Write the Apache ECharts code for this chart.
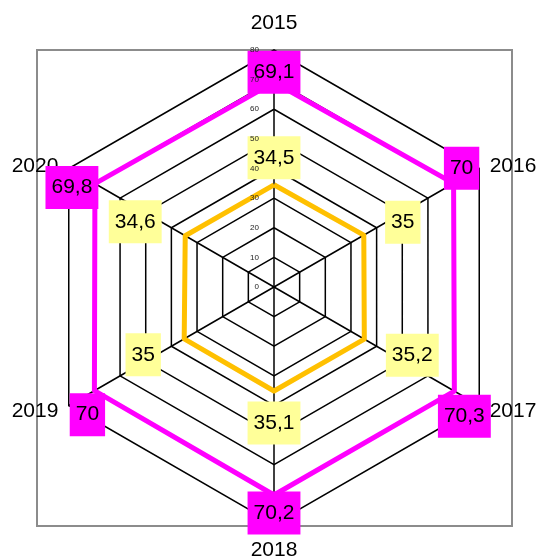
<!doctype html>
<html>
	<head>
		<meta charset="UTF-8">
		<title></title>
		<script src="https://cdn.jsdelivr.net/npm/echarts@6/dist/echarts.min.js"></script>
		<style>
			html, body { margin: 0; padding: 0; background: #fff; }
			#main { width: 537px; height: 557px; }
		</style>
	</head>
	<body>
		<div id="main"></div>
		<script type="text/javascript">
			// data
			var years = ['2015', '2016', '2017', '2018', '2019', '2020'];
			var seriesHigh = [69.1, 70, 70.3, 70.2, 70, 69.8];
			var seriesLow = [34.5, 35, 35.2, 35.1, 35, 34.6];
			var axisMin = 0;
			var axisMax = 80;
			var axisStep = 10;

			// label box offsets (style only)
			var highOffsets = [[0, -10], [8, -15], [10, 25], [0, 18], [-7, 24], [-23, 4]];
			var lowOffsets = [[0, -27], [39, -13], [48, 16], [0, 32], [-41, 16], [-50, -14]];
			// name nudges per axis (rich style keys)
			var namePad = ['b', 't', 'n', 's', 'n', 't'];

			var center = [274, 287];
			var radius = 237;
			var font = 'Liberation Sans, Arial, sans-serif';

			// echarts radar runs counter-clockwise, the picture runs clockwise
			var order = [0, 5, 4, 3, 2, 1];
			function reorder(arr) {
				return order.map(function (i) { return arr[i]; });
			}

			function labelPoints(values, offsets) {
				return values.map(function (v, i) {
					return {
						value: [v, i * 360 / years.length],
						label: { offset: offsets[i] }
					};
				});
			}

			function commaFmt(p) {
				return String(p.value[0]).replace('.', ',');
			}

			function boxLabel(bg) {
				return {
					show: true,
					position: 'inside',
					formatter: commaFmt,
					color: '#000',
					fontSize: 21,
					lineHeight: 21,
					fontFamily: font,
					backgroundColor: bg,
					padding: [12, 6, 10, 6]
				};
			}

			function nameStyle(pad) {
				return { fontSize: 21, fontFamily: font, color: '#000', padding: pad };
			}

			var chart = echarts.init(document.getElementById('main'));
			chart.setOption({
				animation: false,
				graphic: [{
					type: 'rect',
					shape: { x: 37, y: 50, width: 475, height: 476 },
					style: { fill: 'none', stroke: '#8c8c8c', lineWidth: 2 },
					z: -1
				}],
				radar: {
					center: center,
					radius: radius,
					startAngle: 90,
					shape: 'polygon',
					splitNumber: (axisMax - axisMin) / axisStep,
					indicator: reorder(years).map(function (y) {
						return { name: y, min: axisMin, max: axisMax };
					}),
					axisName: {
						color: '#000',
						fontSize: 21,
						fontFamily: font,
						formatter: function (name) {
							return '{' + namePad[years.indexOf(name)] + '|' + name + '}';
						},
						rich: {
							b: nameStyle([0, 0, 4, 0]),
							t: nameStyle([8, 0, 0, 0]),
							s: nameStyle([4, 0, 0, 0]),
							n: nameStyle(0)
						}
					},
					nameGap: 12,
					axisLine: { lineStyle: { color: '#000', width: 1.5 } },
					splitLine: { lineStyle: { color: '#000', width: 1.5 } },
					splitArea: { show: false },
					axisLabel: { show: false }
				},
				polar: {
					center: center,
					radius: radius
				},
				angleAxis: {
					type: 'value',
					min: 0,
					max: 360,
					startAngle: 90,
					clockwise: true,
					show: false
				},
				radiusAxis: {
					type: 'value',
					min: axisMin,
					max: axisMax,
					interval: axisStep,
					z: 20,
					axisLine: { show: false },
					axisTick: { show: false },
					splitLine: { show: false },
					axisLabel: {
						color: '#222',
						fontSize: 8,
						fontFamily: font,
						margin: 15
					}
				},
				series: [
					{
						type: 'radar',
						symbol: 'none',
						lineStyle: { color: '#FF00FF', width: 5 },
						data: [{ value: reorder(seriesHigh) }]
					},
					{
						type: 'radar',
						symbol: 'none',
						lineStyle: { color: '#FFC000', width: 5 },
						data: [{ value: reorder(seriesLow) }]
					},
					{
						type: 'scatter',
						coordinateSystem: 'polar',
						symbolSize: 1,
						itemStyle: { color: 'rgba(0,0,0,0)', opacity: 1 },
						z: 5,
						label: boxLabel('#FF00FF'),
						data: labelPoints(seriesHigh, highOffsets)
					},
					{
						type: 'scatter',
						coordinateSystem: 'polar',
						symbolSize: 1,
						itemStyle: { color: 'rgba(0,0,0,0)', opacity: 1 },
						z: 5,
						label: boxLabel('#FFFF99'),
						data: labelPoints(seriesLow, lowOffsets)
					}
				]
			});
		</script>
	</body>
</html>
